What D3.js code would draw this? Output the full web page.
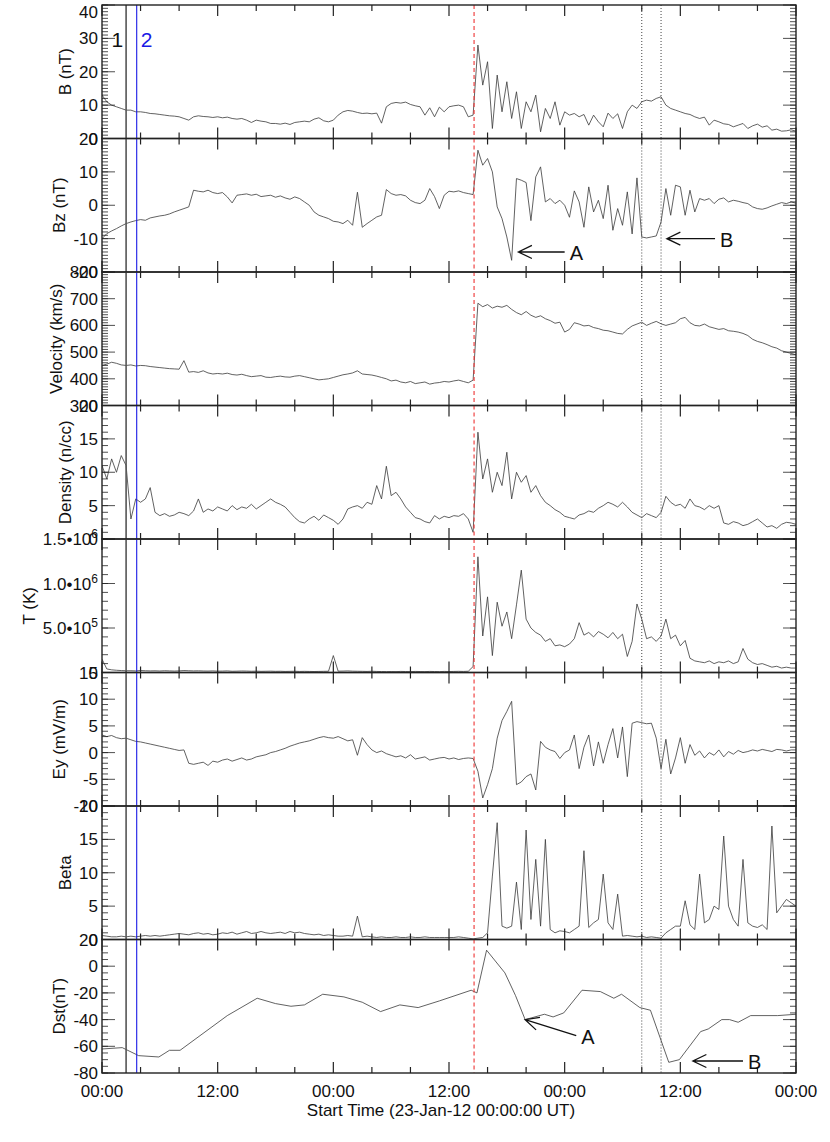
<!DOCTYPE html>
<html>
<head>
<meta charset="utf-8">
<script src="https://cdn.jsdelivr.net/npm/d3@7"></script>
<style>
  body { margin: 0; background: #fff; }
  svg { display: block; font-family: "Liberation Sans", Arial, sans-serif; }
</style>
</head>
<body>
<svg id="chart" width="830" height="1142"></svg>
<script>
// hours since 23-Jan-12 00:00 UT, 30 min steps
var hours = d3.range(0, 72.01, 0.5);

var bTotal = [
  13,11,10,9.5,9,8.5,8.5,8,8,7.8,7.5,7.4,
  7.2,7,6.8,6.7,6.5,6,5.5,6.5,6.8,6.6,6.5,6.3,
  6.5,6.2,6.4,6,5.8,6,5.5,4.8,5.5,5.2,5,4.5,
  4.5,4.3,4.6,4.2,4.8,5,5.2,5,5.8,6.2,5.3,5,
  5.5,7,8,8.4,8.2,7.8,7.5,7.6,7.4,7.6,4.6,9.5,
  10.5,10.8,10.6,10.9,10.2,9.8,9.5,7,9.2,6.5,9.4,8,
  9.5,9.8,10,9.5,6.5,7,28,16,23,3,19,8,
  17,6,14,3,11,8,13,2,9,6,11,4,
  8,7,7.5,6.5,7.2,4,7,5,3.5,7.6,6,7.4,
  3,8,10,9,11,11.5,11.2,12,12.5,10,9,8.5,
  8,7.5,7.2,6.5,6,6.4,4,5.5,5,4.4,4.2,3.5,
  4,4.5,3,3.8,4.3,3.4,3.8,2.5,2.8,2.2,2.3,2.6,
  2.2];

var bz = [
  -10,-8.5,-7.7,-7,-6.2,-5.5,-5,-4.6,-4.3,-4.5,-3.8,-3.5,
  -3.2,-3,-2.6,-2,-1.5,-1,-0.5,4.5,4.2,4,4.5,3.8,
  3.5,3.8,2.5,0.7,3,3.2,3.4,3,3.3,2.6,2.8,3,
  2.4,2.8,2.2,1.8,2.5,2,1,0,-2,-3,-3.5,-4,
  -4.8,-5,-5.5,-4.5,-6,3.9,-6.6,-5.5,-4.5,-3.5,-3,4.7,
  3.5,3,3.2,2.8,1.5,0.8,0.5,1.5,5,2.6,-1,3,
  4.2,4,4.3,3.8,3.5,3.2,16.5,12,14,10,-0.5,-4,
  -9.5,-16.5,8,7.5,6.8,-4.6,8.5,11.5,1,2,0.5,1.5,
  0,-3.6,4.3,1,-6.6,5.5,-2,1.5,-4,6,-7.5,-1,
  -6,4,-8.6,8.2,-9.5,-9.8,-9.5,-9.2,-5,5,-3,6,
  5.5,-3,4.5,-2,2,1.5,2,0.5,1.8,2.2,1,1.5,
  1.2,0.8,0.5,-0.5,-1,-1.2,-0.8,-0.2,0.3,0.8,0.5,1,
  0.6];

var velocity = [
  450,455,462,458,452,450,452,448,450,449,446,444,
  442,440,438,437,436,468,425,427,424,430,422,418,
  420,418,421,416,414,417,412,408,410,412,406,405,
  408,410,407,406,410,412,408,404,400,396,398,400,
  405,410,415,418,422,430,418,416,414,410,405,400,
  392,395,388,385,390,382,385,388,380,384,386,390,
  388,392,395,390,385,395,683,670,678,665,672,668,
  675,660,648,640,652,638,630,636,625,618,608,612,
  575,585,610,605,598,600,592,588,582,580,575,570,
  568,585,598,605,612,600,608,615,606,600,605,610,
  625,630,610,600,598,605,595,590,585,588,580,578,
  575,570,562,548,540,535,528,520,515,505,500,495,
  490];

var density = [
  11,9,12,10,12.5,11,3,6,5.5,6,7.7,4,
  3.5,3.8,3.4,3.6,4,3.8,3.5,4.2,6,4,4.5,4.2,
  4.8,4.5,4.2,5,4.4,4.8,4.6,5.2,4.5,5,5.5,6,
  5.5,5.2,4.8,4,3.2,2.6,2.4,3,3.4,2.8,3.6,3.2,
  2.8,2.2,3,4.5,4.8,5,4.6,5.5,5.2,8,6,10.9,
  6.5,7,6,4.8,4,3.2,3,2.6,2.4,3.5,3,3.4,
  3.2,3.5,3.4,3.8,3,1,16,9,12,7,10,8,
  13,6,10,8.5,9.5,7,8,6.5,5.5,5,4.4,4,
  3.4,3.2,3,3.6,3.8,4.2,4,4.6,5,5.5,5.2,4.8,
  5.5,4.8,4,3.6,3.2,3.8,3.5,3.2,4,6.4,5.5,5,
  5.2,4.6,6,5,4.8,4.4,5,4.6,5,2.4,2.2,2.6,
  2.4,2,2.2,2.6,3,2.4,1.8,2,1.6,2.2,2.5,2.4,
  2.2];

var tempK = [
  150000,40000,30000,25000,22000,20000,20000,18000,22000,20000,18000,19000,
  17000,20000,18000,16000,18000,22000,20000,18000,19000,17000,16000,18000,
  15000,16000,18000,14000,15000,17000,16000,14000,15000,13000,14000,15000,
  13000,14000,12000,13000,14000,12000,13000,12000,11000,12000,13000,14000,
  190000,15000,16000,18000,15000,14000,13000,12000,14000,12000,11000,10000,
  11000,10000,12000,11000,10000,12000,11000,10000,12000,11000,10000,12000,
  11000,12000,13000,12000,14000,67000,1300000,410000,850000,190000,790000,520000,
  680000,380000,760000,1150000,600000,500000,450000,420000,350000,380000,300000,310000,
  290000,320000,380000,560000,420000,450000,400000,460000,430000,390000,450000,380000,
  430000,180000,350000,770000,600000,380000,400000,350000,410000,600000,380000,420000,
  300000,360000,160000,130000,120000,110000,130000,100000,120000,110000,130000,100000,
  120000,270000,150000,110000,90000,100000,80000,60000,70000,50000,60000,50000,
  50000];

var ey = [
  3.3,3,3.2,2.8,2.6,2.7,2.4,2.1,2,1.8,1.6,1.4,
  1.2,1,0.8,0.6,0.4,0.5,-2,-2.2,-2,-1.8,-2.4,-1.6,
  -1.8,-1.4,-1.2,-1.6,-1.3,-1,-1.4,-1.2,-0.8,-0.6,-0.4,0,
  0.2,0.5,0.8,1.2,1.5,1.8,2,2.2,2.5,2.8,3,2.8,
  2.7,3,2.6,2.2,2.4,-0.5,2.8,1.5,0.5,0,0.3,-0.2,
  -0.5,-0.8,-0.6,-1,-0.4,-1.2,-1,-0.8,-1.4,-1.2,-1,-0.9,
  -1.2,-1,-1.3,-1.1,-1,-1.1,-3.5,-8.5,-6,-3,2.7,6,
  7.7,9.6,-6,-5.5,-4.5,-4,-7,2.1,1,0.5,0.2,-1.1,
  0,0.5,3.3,-3,1,3.3,-2.5,2,-2,1.5,4.5,-1,
  4.8,-4.5,5.5,5.8,5.6,5.4,5.5,2.7,-3,2.5,-4,-1,
  2.8,-2,1.5,-0.5,0.3,-1,0,-0.5,0.5,-0.8,0.2,-0.3,
  0.4,0,0.2,0.5,0.3,0.6,0.4,0.2,0.6,0.5,0.3,0.5,
  0.5];

var beta = [
  0.6,0.5,0.4,0.4,0.5,0.4,0.5,0.4,0.5,0.6,0.5,0.6,
  0.5,0.6,0.7,0.8,0.9,0.8,0.7,0.9,1,0.8,0.9,0.7,
  0.8,1,0.9,1.1,0.8,1,1.2,0.9,1,1.2,1,0.9,
  1,1.1,0.9,1.2,1,1.1,0.9,0.8,0.7,0.8,0.6,0.7,
  0.6,0.5,0.5,0.6,0.5,3.5,0.4,0.5,0.4,0.3,0.4,0.3,
  0.3,0.4,0.3,0.3,0.4,0.3,0.3,0.4,0.3,0.3,0.3,0.3,
  0.3,0.3,0.4,0.3,0.2,0.1,0.2,0.3,1,9.5,17.5,2,
  1.7,2,8.6,1.5,16.4,3,12,2,15,1.5,1,1.3,
  1.2,1,1.5,2,13.3,1.8,2.5,3,9.8,2.5,1.5,6.8,
  0.5,0.6,0.5,0.4,0.5,0.3,0.4,0.3,0.2,1,1.5,2,
  2,5.8,2.2,1.5,9.8,2.5,3,5,4.5,15.5,5,3,
  2,12,2.5,2,1.8,2.2,1.5,17,4,5,6,5.5,
  5];

// Dst is hourly-ish, own time base
var dstHours = [0,2.1,3.8,5.9,7,8.1,13,16.1,18,19.6,21,22.9,25.1,27,28.9,30.9,32.8,35,38.3,38.9,39.9,41.8,42.9,43.9,45.9,46.8,47.9,49.8,51.7,53.1,53.9,55.8,56.9,58.8,59.9,62.1,62.9,64.3,65.1,66,67.3,70.1,72];
var dst = [-62,-61,-67,-68,-63,-63,-37,-24,-28,-30,-29,-21,-23,-27,-34,-29,-31,-26,-18,-20,12,-5,-22,-40,-36,-38,-35,-18,-19,-24,-21,-31,-33,-72,-70,-49,-47,-40,-40,-42,-37,-37,-36];

var xTickHours = [0, 12, 24, 36, 48, 60, 72];
var xTickLabels = ["00:00", "12:00", "00:00", "12:00", "00:00", "12:00", "00:00"];
var eventLines = [2.5, 3.6];       // "1" and "2"
var shockHour = 38.6;
var dottedHours = [56, 58];

var svg = d3.select('#chart');
var left = 102, right = 796, top0 = 5, panelH = 133.5;

var x = d3.scaleLinear().domain([0, 72]).range([left, right]);

function sup(mant, exp) { return {m: mant, e: exp}; }

var panels = [
  {label: 'B (nT)', t: hours, v: bTotal, dom: [0, 40], major: 10, minor: 1},
  {label: 'Bz (nT)', t: hours, v: bz, dom: [-20, 20], major: 10, minor: 1},
  {label: 'Velocity (km/s)', t: hours, v: velocity, dom: [300, 800], major: 100, minor: 10},
  {label: 'Density (n/cc)', t: hours, v: density, dom: [0, 20], major: 5, minor: 1},
  {label: 'T (K)', t: hours, v: tempK, dom: [0, 1.5e6], major: 5e5, minor: 1e5,
   fmt: function (d) { return d === 0 ? '0' : sup((d / Math.pow(10, Math.floor(Math.log10(d)))).toFixed(1), Math.floor(Math.log10(d))); }},
  {label: 'Ey (mV/m)', t: hours, v: ey, dom: [-10, 15], major: 5, minor: 1},
  {label: 'Beta', t: hours, v: beta, dom: [0, 20], major: 5, minor: 1},
  {label: 'Dst(nT)', t: dstHours, v: dst, dom: [-80, 20], major: 20, minor: 5}
];

panels.forEach(function (p, i) {
  var y0 = top0 + i * panelH, y1 = y0 + panelH;
  var y = d3.scaleLinear().domain(p.dom).range([y1, y0]);
  var g = svg.append('g');

  var clipId = 'clip' + i;
  g.append('clipPath').attr('id', clipId).append('rect')
    .attr('x', left).attr('y', y0).attr('width', right - left).attr('height', panelH);

  // data line
  var line = d3.line()
    .x(function (d, k) { return x(p.t[k]); })
    .y(function (d) { return y(d); });
  g.append('path').datum(p.v)
    .attr('clip-path', 'url(#' + clipId + ')')
    .attr('d', line)
    .attr('fill', 'none').attr('stroke', '#3a3a3a').attr('stroke-width', 0.8);

  // event lines
  eventLines.forEach(function (h, k) {
    g.append('line').attr('x1', x(h)).attr('x2', x(h)).attr('y1', y0).attr('y2', y1)
      .attr('stroke', k === 0 ? '#555' : '#1a1ae6').attr('stroke-width', k === 0 ? 1.6 : 1.1);
  });
  g.append('line').attr('x1', x(shockHour)).attr('x2', x(shockHour)).attr('y1', y0).attr('y2', y1)
    .attr('stroke', '#e33').attr('stroke-width', 1.1).attr('stroke-dasharray', '4,3');
  dottedHours.forEach(function (h) {
    g.append('line').attr('x1', x(h)).attr('x2', x(h)).attr('y1', y0).attr('y2', y1)
      .attr('stroke', '#444').attr('stroke-width', 1).attr('stroke-dasharray', '1,2');
  });

  // y ticks, both sides
  var minorTicks = d3.range(p.dom[0], p.dom[1] + p.minor / 2, p.minor);
  var majorTicks = d3.range(p.dom[0], p.dom[1] + p.major / 2, p.major);
  [left, right].forEach(function (xe, side) {
    var dir = side === 0 ? 1 : -1;
    g.selectAll(null).data(minorTicks).enter().append('line')
      .attr('x1', xe).attr('x2', xe + dir * 6)
      .attr('y1', function (d) { return y(d); }).attr('y2', function (d) { return y(d); })
      .attr('stroke', '#222').attr('stroke-width', 0.8);
    g.selectAll(null).data(majorTicks).enter().append('line')
      .attr('x1', xe).attr('x2', xe + dir * 13)
      .attr('y1', function (d) { return y(d); }).attr('y2', function (d) { return y(d); })
      .attr('stroke', '#222').attr('stroke-width', 0.8);
  });

  // x ticks, top and bottom
  var xMinor = d3.range(0, 72.01, 4);
  [[y1, -1], [y0, 1]].forEach(function (e) {
    g.selectAll(null).data(xMinor).enter().append('line')
      .attr('x1', function (d) { return x(d); }).attr('x2', function (d) { return x(d); })
      .attr('y1', e[0]).attr('y2', function (d) { return e[0] + e[1] * (d % 12 === 0 ? 11 : 6); })
      .attr('stroke', '#222').attr('stroke-width', 1.2);
  });

  // frame
  g.append('rect').attr('x', left).attr('y', y0).attr('width', right - left).attr('height', panelH)
    .attr('fill', 'none').attr('stroke', '#222').attr('stroke-width', 1.4);

  // tick labels
  var labs = g.selectAll(null).data(majorTicks).enter().append('text')
    .attr('x', left - 4).attr('y', function (d) { return Math.max(y(d) + 6, 18); })
    .attr('text-anchor', 'end').attr('font-size', 17).attr('fill', '#111');
  labs.each(function (d) {
    var t = d3.select(this);
    var f = p.fmt ? p.fmt(d) : String(d);
    if (typeof f === 'string') { t.text(f); return; }
    t.append('tspan').text(f.m + '\u2022' + '10');
    t.append('tspan').attr('dy', -7).attr('font-size', 12).text(f.e);
  });
  var minX = d3.min(labs.nodes(), function (n) { return n.getBBox().x; });

  g.append('text')
    .attr('transform', 'translate(' + (minX - 8) + ',' + ((y0 + y1) / 2) + ') rotate(-90)')
    .attr('text-anchor', 'middle').attr('font-size', 17).attr('fill', '#111')
    .text(p.label);

  p.y = y; p.g = g;
});

// bottom axis labels
var yb = top0 + 8 * panelH;
svg.selectAll(null).data(xTickHours).enter().append('text')
  .attr('x', function (d) { return x(d); }).attr('y', yb + 24)
  .attr('text-anchor', 'middle').attr('font-size', 17).attr('fill', '#111')
  .text(function (d, i) { return xTickLabels[i]; });
svg.append('text').attr('x', (left + right) / 2 - 8).attr('y', yb + 43)
  .attr('text-anchor', 'middle').attr('font-size', 17).attr('fill', '#111')
  .text('Start Time (23-Jan-12 00:00:00 UT)');

// "1" and "2" markers
svg.append('text').attr('x', x(eventLines[0]) - 3).attr('y', 47).attr('text-anchor', 'end')
  .attr('font-size', 21).attr('fill', '#111').text('1');
svg.append('text').attr('x', x(eventLines[1]) + 4).attr('y', 47)
  .attr('font-size', 21).attr('fill', '#1a1ae6').text('2');

// arrows
function arrow(tipX, tipY, endX, endY, label) {
  var ang = Math.atan2(endY - tipY, endX - tipX), L = 15, a = 0.45;
  var path = d3.path();
  path.moveTo(endX, endY); path.lineTo(tipX, tipY);
  path.moveTo(tipX + L * Math.cos(ang - a), tipY + L * Math.sin(ang - a));
  path.lineTo(tipX, tipY);
  path.lineTo(tipX + L * Math.cos(ang + a), tipY + L * Math.sin(ang + a));
  svg.append('path').attr('d', path.toString()).attr('fill', 'none')
    .attr('stroke', '#111').attr('stroke-width', 1.3);
  svg.append('text').attr('x', endX + 5).attr('y', endY + 8)
    .attr('font-size', 20).attr('fill', '#111').text(label);
}
var pBz = panels[1], pDst = panels[7];
arrow(x(43.2), pBz.y(-14), x(48), pBz.y(-14), 'A');
arrow(x(58.6), pBz.y(-10), x(63.6), pBz.y(-10), 'B');
arrow(x(43.9), pDst.y(-40), x(49.2), pDst.y(-52), 'A');
arrow(x(61.3), pDst.y(-71), x(66.5), pDst.y(-71), 'B');
</script>
</body>
</html>
